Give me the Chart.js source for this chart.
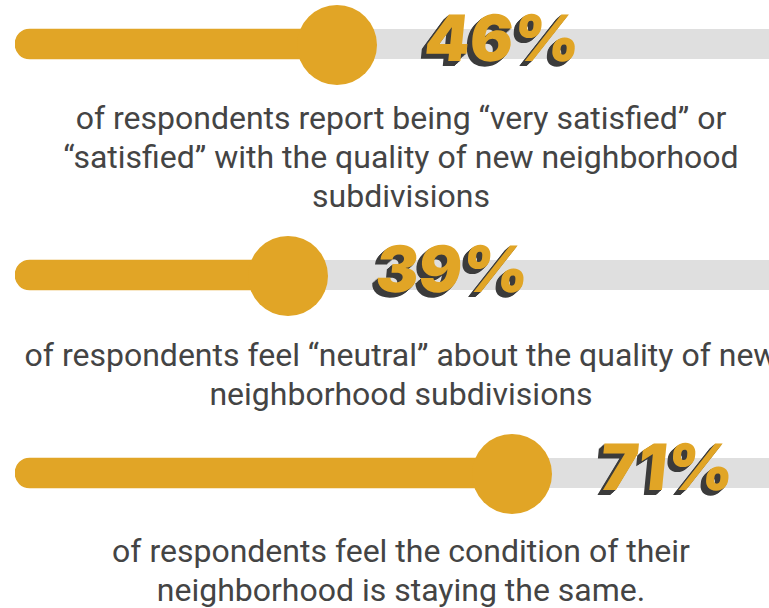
<!DOCTYPE html>
<html>
<head>
<meta charset="utf-8">
<script src="https://cdn.jsdelivr.net/npm/chart.js@4"></script>
<style>
  html, body { margin: 0; padding: 0; background: #fff; overflow: hidden; }
  body { width: 769px; height: 608px; position: relative; }
  .row-canvas { position: absolute; left: 0; }
  .caption {
    position: absolute;
    left: 401px;
    transform: translateX(-50%);
    white-space: nowrap;
    text-align: center;
    font-family: Roboto, sans-serif;
    font-size: 32px;
    line-height: 39px;
    color: #444;
  }
</style>
</head>
<body>
<div id="rows"></div>
<script>
// share of respondents per question
const values = [46, 39, 71];
const valueLabels = ['46%', '39%', '71%'];
const captions = [
    ['of respondents report being “very satisfied” or', '“satisfied” with the quality of new neighborhood', 'subdivisions'],
    ['of respondents feel “neutral” about the quality of new', 'neighborhood subdivisions'],
    ['of respondents feel the condition of their', 'neighborhood is staying the same.']
];

const YELLOW = '#E1A526';
const TRACK = '#DFDFDF';
const SHADOW = '#3b3b3b';

const canvasTops = [0, 231, 429];
const captionTops = [99, 336, 532];
const ROW_H = 88;
const BAR_H = 30;
const KNOB_R = 40;

// grey rail behind the bar, runs off the right edge
const trackPlugin = {
    id: 'track',
    beforeDatasetsDraw(chart) {
        const { ctx, chartArea } = chart;
        const bar = chart.getDatasetMeta(0).data[0];
        ctx.save();
        ctx.fillStyle = TRACK;
        ctx.beginPath();
        ctx.roundRect(chartArea.left, bar.y - BAR_H / 2, chart.width + 40 - chartArea.left, BAR_H, BAR_H / 2);
        ctx.fill();
        ctx.restore();
    }
};

// round knob at the end of the bar + big slanted percentage with a dark extrusion
const knobPlugin = {
    id: 'knob',
    afterDatasetsDraw(chart) {
        const { ctx } = chart;
        const idx = chart.options.rowIndex;
        const bar = chart.getDatasetMeta(0).data[0];
        ctx.save();
        ctx.fillStyle = YELLOW;
        ctx.beginPath();
        ctx.arc(bar.x, bar.y + 1, KNOB_R, 0, Math.PI * 2);
        ctx.fill();

        const tx = bar.x + KNOB_R + 46;
        const ty = bar.y + 17;
        ctx.translate(tx, ty);
        ctx.transform(1, 0, -0.1, 1, 0, 0);
        ctx.font = '900 64px Inter';
        ctx.textBaseline = 'alphabetic';
        ctx.fillStyle = SHADOW;
        for (let s = 1; s <= 5; s++) ctx.fillText(valueLabels[idx], -s, s);
        ctx.fillStyle = YELLOW;
        ctx.fillText(valueLabels[idx], 0, 0);
        ctx.restore();
    }
};

const rows = document.getElementById('rows');

values.forEach((v, i) => {
    const canvas = document.createElement('canvas');
    canvas.className = 'row-canvas';
    canvas.width = 769;
    canvas.height = ROW_H;
    canvas.style.top = canvasTops[i] + 'px';
    rows.appendChild(canvas);

    const cap = document.createElement('div');
    cap.className = 'caption';
    cap.style.top = captionTops[i] + 'px';
    cap.innerHTML = captions[i].join('<br>');
    rows.appendChild(cap);

    new Chart(canvas, {
        type: 'bar',
        data: {
            labels: [valueLabels[i]],
            datasets: [{
                data: [v],
                backgroundColor: YELLOW,
                barThickness: BAR_H,
                borderRadius: { topLeft: BAR_H / 2, bottomLeft: BAR_H / 2 },
                borderSkipped: false
            }]
        },
        options: {
            rowIndex: i,
            indexAxis: 'y',
            responsive: false,
            animation: false,
            devicePixelRatio: 1,
            layout: { padding: { left: 15, right: 54, top: 0, bottom: 0 } },
            scales: {
                x: { min: 0, max: 100, display: false },
                y: { display: false }
            },
            plugins: {
                legend: { display: false },
                tooltip: { enabled: false }
            }
        },
        plugins: [trackPlugin, knobPlugin]
    });
});
</script>
</body>
</html>
